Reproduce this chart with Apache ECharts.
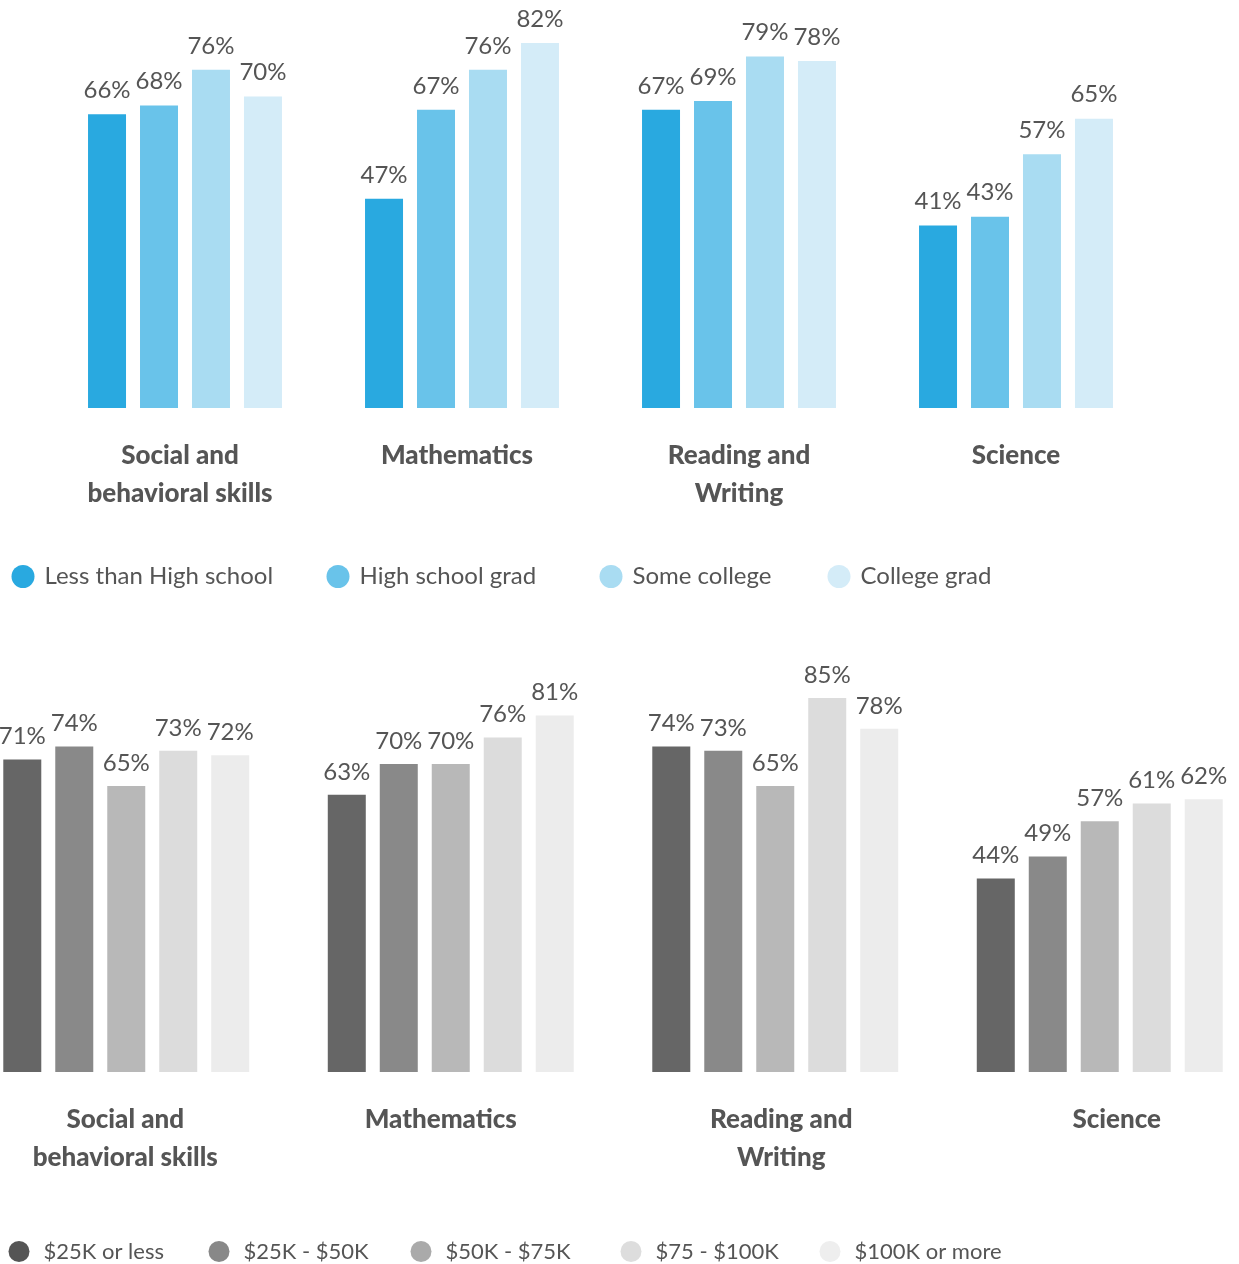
<!DOCTYPE html>
<html>
<head>
<meta charset="utf-8">
<script src="https://cdn.jsdelivr.net/npm/echarts@6/dist/echarts.min.js"></script>
<style>
html,body{margin:0;padding:0;background:#fff;overflow:hidden;width:1239px;height:1264px;}
#chart{position:absolute;left:-36px;top:0;width:1320px;height:1264px;}
</style>
</head>
<body>
<div id="chart"></div>
<script>
const categories = ['Social and\nbehavioral skills', 'Mathematics', 'Reading and\nWriting', 'Science'];

const eduNames = ['Less than High school', 'High school grad', 'Some college', 'College grad'];
const eduLessHS = [66, 47, 67, 41];
const eduHSGrad = [68, 67, 69, 43];
const eduSomeCollege = [76, 76, 79, 57];
const eduCollegeGrad = [70, 82, 78, 65];
const eduColors = ['#29a9e0', '#69c3ea', '#a9dcf2', '#d4ecf8'];

const incNames = ['$25K or less', '$25K - $50K', '$50K - $75K', '$75 - $100K', '$100K or more'];
const inc25 = [71, 63, 74, 44];
const inc25to50 = [74, 70, 73, 49];
const inc50to75 = [65, 70, 65, 57];
const inc75to100 = [73, 76, 85, 61];
const inc100plus = [72, 81, 78, 62];
const incColors = ['#666666', '#898989', '#b8b8b8', '#dcdcdc', '#ececec'];
const incLegendColors = ['#555555', '#888888', '#aaaaaa', '#dddddd', '#eeeeee'];

// horizontal nudges (px) of the category labels, for layout only
const eduLabelShift = [-5, -5, 0, 0];
const incLabelShift = [-1, -10, 6, 17];

const FONT = 'Lato';
const TXT = '#555555';
const SHIFT = 36;

const eduData = [eduLessHS, eduHSGrad, eduSomeCollege, eduCollegeGrad];
const incData = [inc25, inc25to50, inc50to75, inc75to100, inc100plus];

function barSeries(name, data, color, idx, dist) {
  return {
    name: name, type: 'bar', data: data,
    xAxisIndex: idx, yAxisIndex: idx,
    barWidth: 38, barGap: '36.8%',
    itemStyle: { color: color },
    label: {
      show: true, position: 'top', distance: dist,
      formatter: '{c}%', color: TXT, fontFamily: FONT, fontSize: 24
    },
    silent: true
  };
}

const series = [];
eduNames.forEach((n, i) => series.push(barSeries(n, eduData[i], eduColors[i], 0, 12)));
incNames.forEach((n, i) => series.push(barSeries(n, incData[i], incColors[i], 1, 11)));

const eduLegendX = [11.5, 326.5, 599.5, 827.5];
const incLegendX = [8.5, 208.5, 410.5, 620.5, 819.5];
const legends = [];
eduNames.forEach((n, i) => legends.push({
  data: [{ name: n, itemStyle: { color: eduColors[i] } }],
  left: eduLegendX[i] + SHIFT, top: 564.5, padding: 0, icon: 'circle', itemWidth: 23, itemHeight: 23, itemGap: 0,
  textStyle: { color: TXT, fontFamily: FONT, fontSize: 24, padding: [0, 0, 0, 5] },
  selectedMode: false
}));
incNames.forEach((n, i) => legends.push({
  data: [{ name: n, itemStyle: { color: incLegendColors[i] } }],
  left: incLegendX[i] + SHIFT, top: 1240.5, padding: 0, icon: 'circle', itemWidth: 21, itemHeight: 21, itemGap: 0,
  textStyle: { color: TXT, fontFamily: FONT, fontSize: 22, padding: [0, 0, 0, 9] },
  selectedMode: false
}));

function xAxis(idx, shifts) {
  return {
    type: 'category', gridIndex: idx,
    data: categories.map((c, i) => ({
      value: c,
      textStyle: { padding: shifts[i] >= 0 ? [0, 0, 0, 2 * shifts[i]] : [0, -2 * shifts[i], 0, 0] }
    })),
    axisLine: { show: false }, axisTick: { show: false },
    axisLabel: {
      color: TXT, fontFamily: FONT, fontWeight: 900, fontSize: 26,
      lineHeight: 38, margin: 29, interval: 0
    }
  };
}
function yAxis(idx) {
  return {
    type: 'value', gridIndex: idx, min: 0, max: 90,
    show: false, splitLine: { show: false }
  };
}

const chart = echarts.init(document.getElementById('chart'));
chart.setOption({
  backgroundColor: '#ffffff',
  animation: false,
  grid: [
    { left: 46.5 + SHIFT, width: 1108, top: 7.5, height: 400.5 },
    { left: -36 + SHIFT, width: 1298, top: 676, height: 396 }
  ],
  xAxis: [xAxis(0, eduLabelShift), xAxis(1, incLabelShift)],
  yAxis: [yAxis(0), yAxis(1)],
  legend: legends,
  series: series
});
</script>
</body>
</html>
